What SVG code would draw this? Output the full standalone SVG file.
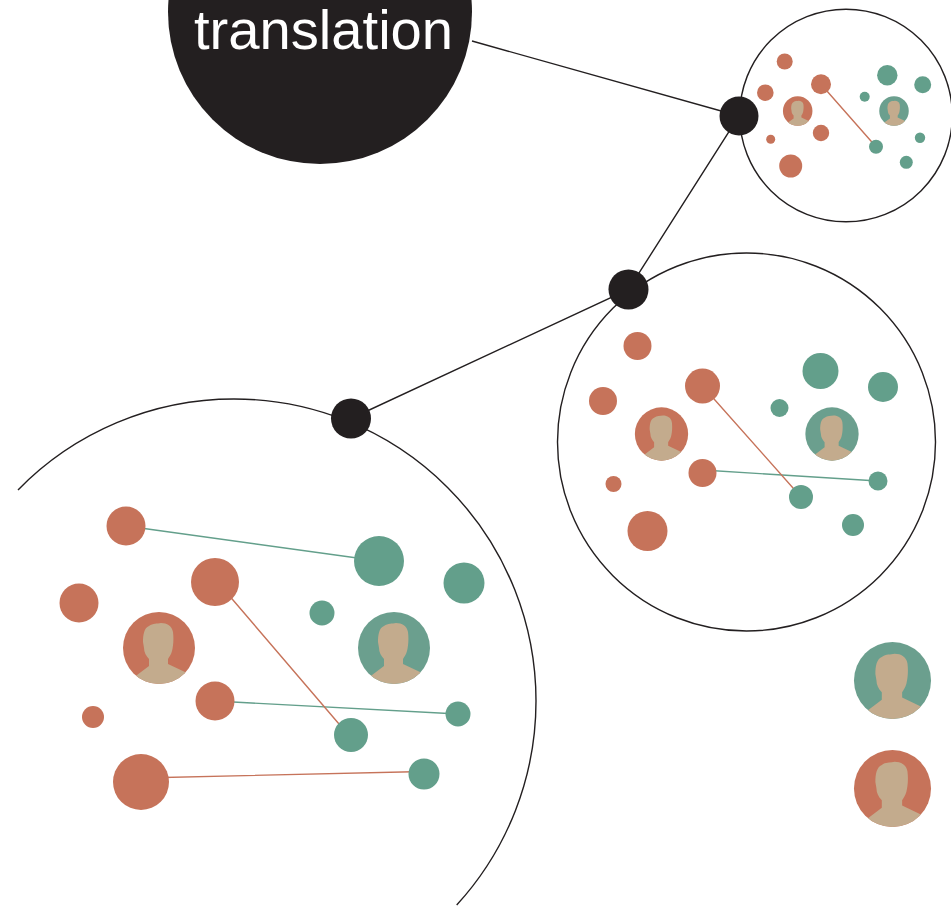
<svg xmlns="http://www.w3.org/2000/svg" width="951" height="906" viewBox="0 0 951 906">
<style>
.ring{fill:none;stroke:#231f20;stroke-width:1.4}
.hub{fill:#231f20}
.o{fill:#c6735a}
.g{fill:#639f8b}
.lo{stroke:#c6735a;stroke-width:1.4;fill:none}
.lg{stroke:#639f8b;stroke-width:1.4;fill:none}
.link{stroke:#231f20;stroke-width:1.4;fill:none}
.label{font-family:"Liberation Sans",Arial,sans-serif;font-size:56.2px;fill:#fff;text-anchor:middle}
</style>
<defs>
<clipPath id="disc"><circle r="36"/></clipPath>
<g id="bust"><path clip-path="url(#disc)" fill="#c3ab8d" d="M-36,36L-22,27L-10,18L-10,11C-13,8-15,4-15,0L-16,-6C-16,-13-15,-20-10,-22C-6,-25-2,-24,2,-25C8,-25,13,-22,14,-16C15,-8,14,-1,13,3C12,7,10,9,9,11L9,16L26,24L36,30V40H-36Z"/></g>
<g id="avO"><circle r="36" class="o"/><use href="#bust"/></g>
<g id="avG"><circle r="36" fill="#6b9f8e"/><use href="#bust"/></g>
</defs>
<rect width="951" height="906" fill="#fff"/>
<g id="connectors">
<path class="link" d="M472,41L739,116L628.500,289.500L351,418.500"/>
<path class="lg" d="M126,526L379,561M215,701L458,714M702.500,470L878,481"/>
<path class="lo" d="M215,579L351,738M141,778L424,771.500M702.500,386L801,497M821,84.300L876,146.700"/>
</g>
<g id="title-node">
<circle class="hub" cx="320" cy="12" r="152"/>
<text class="label" x="323.500" y="49">translation</text>
</g>
<g id="ring-small">
<circle class="ring" cx="846" cy="115.500" r="106.300"/>
<circle class="o" cx="784.700" cy="61.500" r="8"/>
<circle class="o" cx="765.300" cy="92.700" r="8.300"/>
<circle class="o" cx="821" cy="84.300" r="10"/>
<circle class="o" cx="821" cy="133" r="8.200"/>
<circle class="o" cx="770.700" cy="139.300" r="4.500"/>
<circle class="o" cx="790.700" cy="166" r="11.500"/>
<use href="#avO" transform="translate(797.700 111) scale(.41)"/>
<use href="#avG" transform="translate(894 111) scale(.41)"/>
<circle class="g" cx="887.300" cy="75.300" r="10.200"/>
<circle class="g" cx="922.700" cy="84.700" r="8.500"/>
<circle class="g" cx="864.700" cy="96.700" r="5"/>
<circle class="g" cx="920" cy="137.700" r="5.200"/>
<circle class="g" cx="876" cy="146.700" r="7"/>
<circle class="g" cx="906.300" cy="162.300" r="6.500"/>
</g>
<g id="ring-medium">
<circle class="ring" cx="746.500" cy="442" r="189"/>
<circle class="o" cx="637.500" cy="346" r="14"/>
<circle class="o" cx="603" cy="401" r="14"/>
<circle class="o" cx="702.500" cy="386" r="17.500"/>
<circle class="o" cx="702.500" cy="473" r="14"/>
<circle class="o" cx="613.500" cy="484" r="8"/>
<circle class="o" cx="647.500" cy="531" r="20"/>
<use href="#avO" transform="translate(661.500 434) scale(.74)"/>
<use href="#avG" transform="translate(832 434) scale(.74)"/>
<circle class="g" cx="820.500" cy="371" r="18"/>
<circle class="g" cx="883" cy="387" r="15"/>
<circle class="g" cx="779.500" cy="408" r="9"/>
<circle class="g" cx="878" cy="481" r="9.500"/>
<circle class="g" cx="801" cy="497" r="12"/>
<circle class="g" cx="853" cy="525" r="11"/>
</g>
<g id="ring-large">
<path class="ring" d="M18,489.900A302,302,0,0,1,234,399A302,302,0,0,1,536,701A302,302,0,0,1,456.700,905"/>
<circle class="o" cx="126" cy="526" r="19.500"/>
<circle class="o" cx="215" cy="582" r="24"/>
<circle class="o" cx="79" cy="603" r="19.500"/>
<circle class="o" cx="215" cy="701" r="19.500"/>
<circle class="o" cx="93" cy="717" r="11"/>
<circle class="o" cx="141" cy="782" r="28"/>
<use href="#avO" transform="translate(159 648)"/>
<use href="#avG" transform="translate(394 648)"/>
<circle class="g" cx="379" cy="561" r="25"/>
<circle class="g" cx="464" cy="583" r="20.500"/>
<circle class="g" cx="322" cy="613" r="12.500"/>
<circle class="g" cx="458" cy="714" r="12.500"/>
<circle class="g" cx="351" cy="735" r="17"/>
<circle class="g" cx="424" cy="774" r="15.500"/>
</g>
<g id="hub-1"><circle class="hub" cx="739" cy="116" r="19.500"/></g>
<g id="hub-2"><circle class="hub" cx="628.500" cy="289.500" r="20"/></g>
<g id="hub-3"><circle class="hub" cx="351" cy="418.500" r="20"/></g>
<g id="avatar-green"><use href="#avG" transform="translate(892.500 680.500) scale(1.07)"/></g>
<g id="avatar-orange"><use href="#avO" transform="translate(892.500 788.500) scale(1.07)"/></g>
</svg>
